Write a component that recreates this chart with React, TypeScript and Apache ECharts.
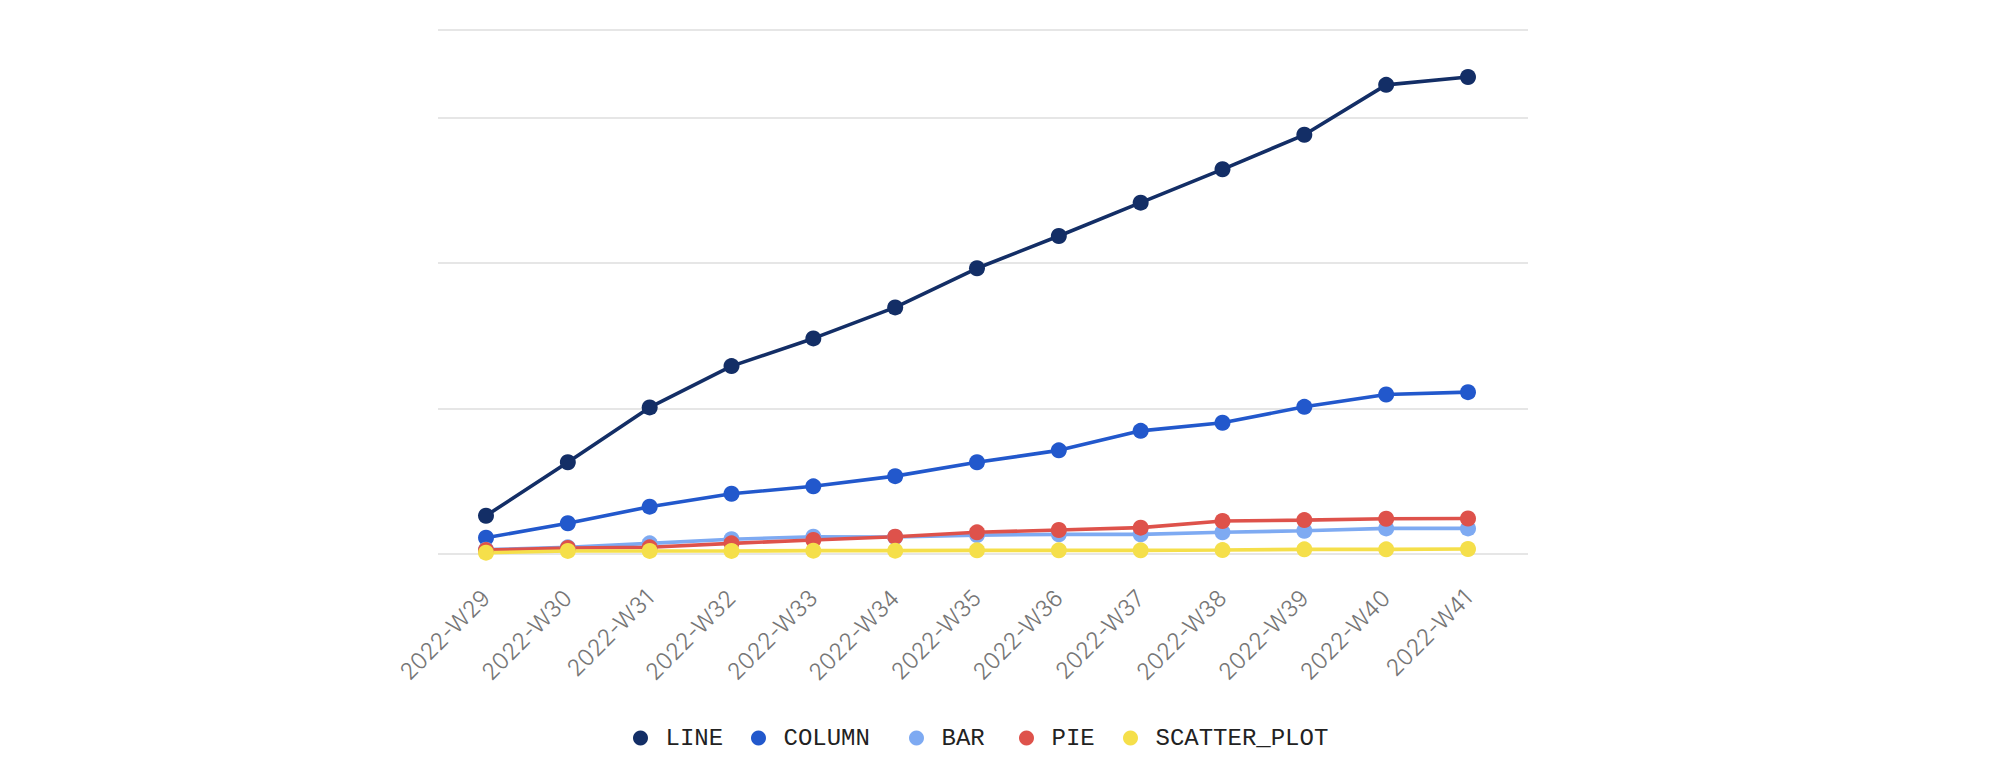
import React, { useEffect, useRef } from "react";
import * as echarts from "echarts";

const categories = [
  "2022-W29", "2022-W30", "2022-W31", "2022-W32", "2022-W33", "2022-W34", "2022-W35",
  "2022-W36", "2022-W37", "2022-W38", "2022-W39", "2022-W40", "2022-W41",
];

const seriesNames = ["LINE", "COLUMN", "BAR", "PIE", "SCATTER_PLOT"];

const lineValues = [26.3, 63.0, 100.7, 129.1, 148.1, 169.4, 196.3, 218.5, 241.4, 264.3, 288.0, 322.3, 327.7];
const columnValues = [11.2, 21.1, 32.5, 41.4, 46.5, 53.5, 63.0, 71.2, 84.6, 90.2, 101.1, 109.6, 111.2];
const barValues = [3.0, 4.6, 7.3, 10.1, 11.9, 11.7, 13.0, 13.5, 13.5, 14.9, 16.0, 17.6, 17.6];
const pieValues = [2.7, 4.1, 4.6, 7.3, 9.6, 11.9, 14.9, 16.5, 18.1, 22.7, 23.3, 24.2, 24.4];
const scatterValues = [0.9, 2.1, 2.1, 2.1, 2.3, 2.3, 2.5, 2.5, 2.5, 2.7, 3.2, 3.2, 3.4];

const colors = ["#132e66", "#2258cc", "#7eaaf2", "#de524b", "#f5df4a"];

// left edge of each legend item, in px
const legendLefts = [633, 751, 909, 1019, 1123];

const yMin = 0;
const yMax = 360;
const yInterval = 100;

export default function App() {
  const ref = useRef<HTMLDivElement | null>(null);

  useEffect(() => {
    if (!ref.current) return;
    const chart = echarts.init(ref.current, null, { renderer: "svg" });
    const allValues = [lineValues, columnValues, barValues, pieValues, scatterValues];

    chart.setOption({
      animation: false,
      backgroundColor: "#ffffff",
      grid: [
        { left: 438, width: 1090, top: 30, height: 524 },
        { left: 486, width: 982, top: 30, height: 524 },
      ],
      xAxis: [
        { gridIndex: 0, type: "category", data: categories, show: false },
        {
          gridIndex: 1,
          type: "category",
          data: categories,
          boundaryGap: false,
          axisLine: { show: false },
          axisTick: { show: false },
          splitLine: { show: false },
          axisLabel: {
            interval: 0,
            rotate: 45,
            margin: 40,
            color: "#767676",
            fontFamily: "Inter",
            fontWeight: 300,
            fontSize: 23,
          },
        },
      ],
      yAxis: [
        {
          gridIndex: 0,
          type: "value",
          min: yMin,
          max: yMax,
          interval: yInterval,
          axisLine: { show: false },
          axisTick: { show: false },
          axisLabel: { show: false },
          splitLine: { show: true, lineStyle: { color: "#dedede", width: 1.5 } },
        },
        {
          gridIndex: 1,
          type: "value",
          min: yMin,
          max: yMax,
          interval: yInterval,
          show: false,
          splitLine: { show: false },
        },
      ],
      legend: seriesNames.map((name, i) => ({
        data: [name],
        icon: "circle",
        itemWidth: 40,
        itemHeight: 15,
        padding: 0,
        left: legendLefts[i],
        top: 726,
        textStyle: {
          fontFamily: "Liberation Mono",
          fontSize: 24,
          color: "#222222",
        },
      })),
      series: seriesNames.map((name, i) => ({
        name,
        type: "line",
        xAxisIndex: 1,
        yAxisIndex: 1,
        data: allValues[i],
        symbol: "circle",
        symbolSize: 16,
        showSymbol: true,
        lineStyle: { width: 3.6, color: colors[i] },
        itemStyle: { color: colors[i] },
        emphasis: { disabled: true },
      })),
    });

    return () => {
      chart.dispose();
    };
  }, []);

  return (
    <div
      ref={ref}
      style={{ position: "fixed", left: 0, top: 0, width: 2000, height: 784 }}
    />
  );
}
